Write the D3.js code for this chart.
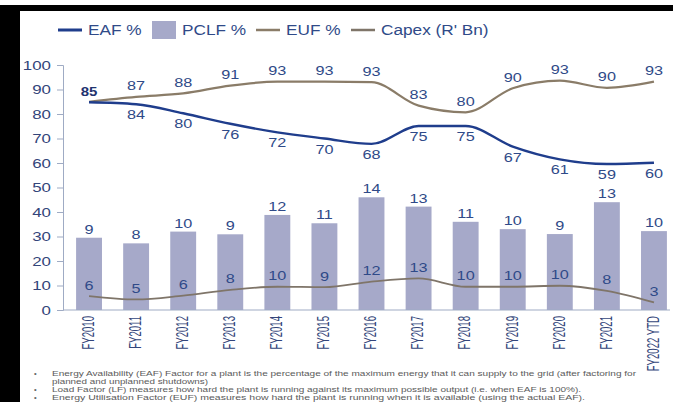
<!DOCTYPE html>
<html><head><meta charset="utf-8">
<script src="https://cdn.jsdelivr.net/npm/d3@7/dist/d3.min.js"></script>
<style>body{margin:0;background:#fff}svg{display:block}text{font-family:"Liberation Sans",Arial,sans-serif}</style>
</head><body><svg id="c" width="673" height="402"></svg>
<script>
const categories=["FY2010","FY2011","FY2012","FY2013","FY2014","FY2015","FY2016","FY2017","FY2018","FY2019","FY2020","FY2021","FY2022 YTD"];
const eafValues=[84.8,84,80.3,76,72.5,70,67.8,75.1,75.1,66.7,61.5,59.6,60.1];
const eafLabels=["85","84","80","76","72","70","68","75","75","67","61","59","60"];
const eufValues=[85,87,88.4,91.6,93.2,93.2,93,83.4,80.7,90.5,93.6,90.7,93.2];
const eufLabels=["","87","88","91","93","93","93","83","80","90","93","90","93"];
const pclfValues=[29.5,27.2,32,30.9,38.8,35.4,46,42.2,36,33,31,44,32.2];
const pclfLabels=["9","8","10","9","12","11","14","13","11","10","9","13","10"];
const capexValues=[5.7,4.3,5.9,8.2,9.5,9.3,11.6,12.9,9.5,9.5,9.9,7.8,3.1];
const capexLabels=["6","5","6","8","10","9","12","13","10","10","10","8","3"];
const yTicks=[0,10,20,30,40,50,60,70,80,90,100];
const legendItems=[{name:"EAF %",type:"line",key:"eaf"},{name:"PCLF %",type:"rect",key:"pclf"},{name:"EUF %",type:"line",key:"euf"},{name:"Capex (R' Bn)",type:"line",key:"capex"}];
const notes=[
 {b:true,t:"Energy Availability (EAF) Factor for a plant is the percentage of the maximum energy that it can supply to the grid (after factoring for",len:584},
 {b:false,t:"planned and unplanned shutdowns)",len:156},
 {b:true,t:"Load Factor (LF) measures how hard the plant is running against its maximum possible output (i.e. when EAF is 100%).",len:529},
 {b:true,t:"Energy Utilisation Factor (EUF) measures how hard the plant is running when it is available (using the actual EAF).",len:533}
];
const col={eaf:"#1f3d8c",euf:"#8a7c68",capex:"#7f7569",pclf:"#a6a9c9",lbl:"#2f4a88",axis:"#9fabc4",tick:"#33457a"};

const svg=d3.select("#c");
// frame
svg.append("rect").attr("x",0).attr("y",5).attr("width",20).attr("height",397).attr("fill","#000");
svg.append("rect").attr("x",14).attr("y",5).attr("width",659).attr("height",6).attr("fill","#000");

const x=d3.scaleBand().domain(categories).range([65.5,677.5]).paddingInner(0.45).paddingOuter(0.225);
const cx=d=>x(d)+x.bandwidth()/2;
const y=d3.scaleLinear().domain([0,100]).range([310,65]);
const SX=1.3;
function txt(g,xp,yp,s,o){
  const t=g.append("text").attr("transform",`translate(${xp},${yp}) scale(${o.sx||SX},1)`).text(s)
   .attr("font-size",o.fs||12.5).attr("fill",o.fill||col.lbl).attr("text-anchor",o.anchor||"middle");
  if(o.bold)t.attr("font-weight","bold");
  return t;
}
// bars
svg.append("g").selectAll("rect").data(categories).join("rect")
 .attr("x",d=>x(d)).attr("width",x.bandwidth())
 .attr("y",(d,i)=>y(pclfValues[i])).attr("height",(d,i)=>y(0)-y(pclfValues[i])).attr("fill",col.pclf);

// axes
const ya=svg.append("g").attr("transform","translate(63,0)").call(d3.axisLeft(y).tickValues(yTicks).tickSize(6).tickFormat(""));
ya.selectAll("path,line").attr("stroke",col.axis);
const yl=svg.append("g");
yTicks.forEach(v=>txt(yl,51,y(v)+4.5,String(v),{anchor:"end",fill:col.tick,fs:12.5,sx:1.35}));
svg.append("line").attr("x1",63).attr("x2",670).attr("y1",y(0)).attr("y2",y(0)).attr("stroke",col.axis);
const xl=svg.append("g");
categories.forEach(c=>{
  xl.append("text").attr("transform",`translate(${cx(c)+4.8},316) scale(1.38,0.8) rotate(-90)`)
   .attr("text-anchor","end").attr("font-size",12).attr("fill",col.tick).text(c);
});

// lines
const line=vals=>d3.line().x((d,i)=>cx(categories[i])).y(d=>y(d)).curve(d3.curveMonotoneX)(vals);
svg.append("path").attr("d",line(capexValues)).attr("fill","none").attr("stroke",col.capex).attr("stroke-width",1.8);
svg.append("path").attr("d",line(eufValues)).attr("fill","none").attr("stroke",col.euf).attr("stroke-width",2.2);
svg.append("path").attr("d",line(eafValues)).attr("fill","none").attr("stroke",col.eaf).attr("stroke-width",2.4);

// labels
const lg=svg.append("g");
categories.forEach((c,i)=>{
  txt(lg,cx(c),y(pclfValues[i])-4,pclfLabels[i],{});
  txt(lg,cx(c),y(capexValues[i])-6.5,capexLabels[i],{});
  if(eufLabels[i])txt(lg,cx(c),y(eufValues[i])-6.5,eufLabels[i],{});
  if(i===0) txt(lg,cx(c),y(eafValues[i])-6,eafLabels[i],{bold:true,fill:"#1f3470",sx:1.2});
  else txt(lg,cx(c),y(eafValues[i])+15,eafLabels[i],{});
});

// legend
const leg=svg.append("g");
const legPos=[58,152,256,351];
legendItems.forEach((it,i)=>{
  const px=legPos[i];
  if(it.type==="line"){
    leg.append("line").attr("x1",px).attr("x2",px+24).attr("y1",30).attr("y2",30).attr("stroke",col[it.key]).attr("stroke-width",it.key==="eaf"?3:2.5);
  } else {
    leg.append("rect").attr("x",px).attr("y",21).attr("width",24).attr("height",18).attr("fill",col.pclf);
  }
  txt(leg,px+30,35,it.name,{anchor:"start",fs:14,sx:1.23,fill:"#2f4a88"});
});

// notes
const ng=svg.append("g");
const noteY=[376,384,392,400];
notes.forEach((n,i)=>{
  if(n.b) ng.append("text").attr("x",34).attr("y",noteY[i]).attr("font-size",7.5).attr("fill","#666").text("•");
  ng.append("text").attr("x",52).attr("y",noteY[i]).attr("font-size",7.5).attr("fill","#5a5a5a")
    .attr("textLength",n.len).attr("lengthAdjust","spacingAndGlyphs").text(n.t);
});
</script></body></html>
